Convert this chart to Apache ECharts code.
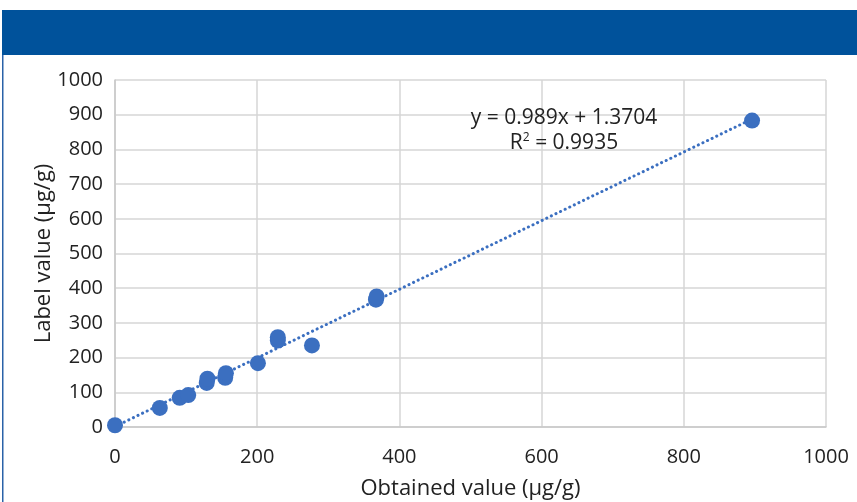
<!DOCTYPE html>
<html><head><meta charset="utf-8">
<script src="https://cdn.jsdelivr.net/npm/echarts@6/dist/echarts.min.js"></script>
<style>html,body{margin:0;padding:0;background:#fff}#c{width:857px;height:502px}</style>
</head><body><div id="c"></div>
<script>
const obtained = [0, 63, 91, 103, 129, 130, 155, 156, 201, 229, 229, 277, 367, 368, 896];
const labelVals = [5, 55, 84, 92, 127, 139, 142, 155, 184, 249, 259, 235, 367, 376, 883];
const slope = 0.989, intercept = 1.3704;
const eqText = 'y = 0.989x + 1.3704';
const r2Text = 'R{s|2} = 0.9935';
const xTicks = [0, 200, 400, 600, 800, 1000];
const yTicks = [0, 100, 200, 300, 400, 500, 600, 700, 800, 900, 1000];

const pts = obtained.map((x, i) => [x, labelVals[i]]);
const xMax = Math.max(...obtained);
const trend = [[0, intercept], [xMax, slope * xMax + intercept]];
const font = '"Open Sans", "Noto Sans", sans-serif';
const chart = echarts.init(document.getElementById('c'), null, {renderer: 'canvas'});
chart.setOption({
  animation: false,
  backgroundColor: '#fff',
  grid: {left: 115, right: 31, top: 80, bottom: 75, containLabel: false, outerBoundsMode: 'none'},
  graphic: [
    {type: 'rect', shape: {x: 2, y: 10, width: 855, height: 45}, style: {fill: '#00529b'}, silent: true},
    {type: 'rect', shape: {x: 2, y: 55, width: 1.5, height: 447}, style: {fill: '#2a62a8'}, silent: true},
    {type: 'text', x: 564, y: 118, z: 10, style: {text: eqText, font: '21px ' + font, fill: '#222', align: 'center', verticalAlign: 'middle'}},
    {type: 'text', x: 564, y: 143, z: 10, style: {text: r2Text, font: '21px ' + font, fill: '#222', align: 'center', verticalAlign: 'middle',
      rich: {s: {fontSize: 12, verticalAlign: 'top', padding: [0,0,10,0], fontFamily: font, fill: '#222'}}}}
  ],
  xAxis: {
    type: 'value', min: 0, max: 1000, interval: 200,
    name: 'Obtained value (µg/g)', nameLocation: 'middle', nameGap: 51,
    nameTextStyle: {fontFamily: font, fontSize: 22, color: '#222'},
    axisLine: {show: true, lineStyle: {color: '#c8c8c8', width: 1.5}},
    axisTick: {show: false},
    axisLabel: {fontFamily: font, fontSize: 20, color: '#222', margin: 20, formatter: v => String(v)},
    splitLine: {show: true, lineStyle: {color: '#d6d6d6', width: 1.5}}
  },
  yAxis: {
    type: 'value', min: 0, max: 1000, interval: 100,
    name: 'Label value (µg/g)', nameLocation: 'middle', nameGap: 60, nameMoveOverlap: false,
    nameTextStyle: {fontFamily: font, fontSize: 22, color: '#222'},
    axisLine: {show: true, lineStyle: {color: '#c8c8c8', width: 1.5}},
    axisTick: {show: false},
    axisLabel: {fontFamily: font, fontSize: 20, color: '#222', margin: 12, formatter: v => String(v)},
    splitLine: {show: true, lineStyle: {color: '#d6d6d6', width: 1.5}}
  },
  series: [
    {type: 'line', data: trend, symbol: 'none', z: 2,
     lineStyle: {color: '#3b6fc0', width: 3, type: [0.1, 5], cap: 'round'}},
    {type: 'scatter', data: pts, symbol: 'circle', symbolSize: 16, z: 3,
     itemStyle: {color: '#3b6fc0', opacity: 1}}
  ]
});
</script></body></html>
